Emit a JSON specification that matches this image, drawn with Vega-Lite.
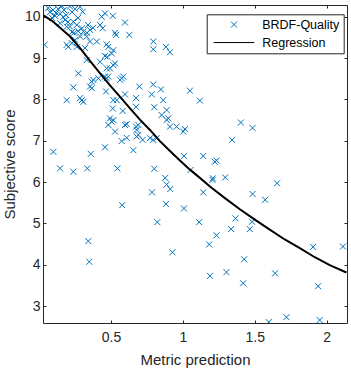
{
  "$schema": "https://vega.github.io/schema/vega-lite/v6.json",
  "width": 304,
  "height": 318,
  "autosize": "none",
  "padding": {"left": 43, "top": 5, "right": 4, "bottom": 47},
  "background": "white",
  "config": {
    "view": {"stroke": null},
    "font": "Liberation Sans",
    "axis": {
      "grid": false,
      "domainColor": "#262626",
      "tickColor": "#262626",
      "labelColor": "#262626",
      "titleColor": "#262626",
      "labelFont": "Liberation Sans",
      "titleFont": "Liberation Sans",
      "labelFontSize": 14,
      "titleFontSize": 15,
      "titleFontWeight": "normal",
      "tickSize": -3,
      "domainWidth": 1,
      "tickWidth": 1
    }
  },
  "datasets": {
    "points": [
      {"prediction": 0.037, "score": 9.32}, {"prediction": 0.158, "score": 10.26}, {"prediction": 0.285, "score": 10.24}, {"prediction": 0.303, "score": 10.12},
      {"prediction": 0.076, "score": 10.11}, {"prediction": 0.097, "score": 10.16}, {"prediction": 0.118, "score": 10.09}, {"prediction": 0.132, "score": 10.19},
      {"prediction": 0.146, "score": 10.07}, {"prediction": 0.111, "score": 10.02}, {"prediction": 0.167, "score": 9.99}, {"prediction": 0.188, "score": 10.04},
      {"prediction": 0.090, "score": 9.97}, {"prediction": 0.146, "score": 9.84}, {"prediction": 0.181, "score": 9.92}, {"prediction": 0.201, "score": 9.87},
      {"prediction": 0.238, "score": 9.88}, {"prediction": 0.262, "score": 9.80}, {"prediction": 0.192, "score": 9.76}, {"prediction": 0.215, "score": 9.76},
      {"prediction": 0.229, "score": 9.63}, {"prediction": 0.243, "score": 9.61}, {"prediction": 0.271, "score": 9.65}, {"prediction": 0.297, "score": 9.72},
      {"prediction": 0.308, "score": 9.64}, {"prediction": 0.354, "score": 9.68}, {"prediction": 0.333, "score": 9.61}, {"prediction": 0.285, "score": 9.52},
      {"prediction": 0.331, "score": 9.52}, {"prediction": 0.354, "score": 9.40}, {"prediction": 0.192, "score": 9.32}, {"prediction": 0.203, "score": 9.27},
      {"prediction": 0.227, "score": 9.36}, {"prediction": 0.262, "score": 9.27}, {"prediction": 0.319, "score": 9.24}, {"prediction": 0.401, "score": 9.40},
      {"prediction": 0.229, "score": 10.11}, {"prediction": 0.250, "score": 10.19}, {"prediction": 0.063, "score": 10.21}, {"prediction": 0.215, "score": 10.25},
      {"prediction": 0.174, "score": 10.16}, {"prediction": 0.271, "score": 9.97}, {"prediction": 0.340, "score": 9.80}, {"prediction": 0.375, "score": 9.73},
      {"prediction": 0.250, "score": 9.44}, {"prediction": 0.458, "score": 10.08}, {"prediction": 0.435, "score": 10.00}, {"prediction": 0.512, "score": 10.02},
      {"prediction": 0.597, "score": 9.86}, {"prediction": 0.442, "score": 9.72}, {"prediction": 0.424, "score": 9.80}, {"prediction": 0.528, "score": 9.61},
      {"prediction": 0.535, "score": 9.56}, {"prediction": 0.627, "score": 9.56}, {"prediction": 0.794, "score": 9.40}, {"prediction": 0.794, "score": 9.21},
      {"prediction": 0.882, "score": 9.27}, {"prediction": 0.910, "score": 9.14}, {"prediction": 0.470, "score": 9.33}, {"prediction": 0.516, "score": 9.19},
      {"prediction": 0.505, "score": 9.11}, {"prediction": 0.458, "score": 9.05}, {"prediction": 0.474, "score": 9.03}, {"prediction": 0.481, "score": 9.27},
      {"prediction": 0.331, "score": 8.95}, {"prediction": 0.424, "score": 8.91}, {"prediction": 0.528, "score": 8.87}, {"prediction": 0.493, "score": 8.75},
      {"prediction": 0.516, "score": 8.83}, {"prediction": 0.273, "score": 8.63}, {"prediction": 0.470, "score": 8.75}, {"prediction": 0.366, "score": 8.43},
      {"prediction": 0.377, "score": 8.47}, {"prediction": 0.412, "score": 8.51}, {"prediction": 0.458, "score": 8.55}, {"prediction": 0.470, "score": 8.51},
      {"prediction": 0.481, "score": 8.55}, {"prediction": 0.574, "score": 8.51}, {"prediction": 0.585, "score": 8.55}, {"prediction": 0.563, "score": 8.47},
      {"prediction": 0.697, "score": 8.31}, {"prediction": 0.794, "score": 8.36}, {"prediction": 0.847, "score": 8.24}, {"prediction": 0.238, "score": 8.29},
      {"prediction": 0.354, "score": 8.31}, {"prediction": 0.366, "score": 8.27}, {"prediction": 0.465, "score": 8.19}, {"prediction": 0.597, "score": 8.12},
      {"prediction": 0.783, "score": 8.12}, {"prediction": 0.674, "score": 8.03}, {"prediction": 0.192, "score": 7.98}, {"prediction": 0.285, "score": 8.03},
      {"prediction": 0.297, "score": 7.98}, {"prediction": 0.308, "score": 7.94}, {"prediction": 0.516, "score": 7.98}, {"prediction": 0.540, "score": 7.98},
      {"prediction": 0.863, "score": 7.98}, {"prediction": 0.512, "score": 7.78}, {"prediction": 0.581, "score": 7.72}, {"prediction": 0.674, "score": 7.82},
      {"prediction": 0.801, "score": 7.81}, {"prediction": 0.887, "score": 7.74}, {"prediction": 0.852, "score": 7.62}, {"prediction": 0.898, "score": 7.54},
      {"prediction": 0.493, "score": 7.54}, {"prediction": 0.516, "score": 7.50}, {"prediction": 0.505, "score": 7.46}, {"prediction": 0.609, "score": 7.40},
      {"prediction": 0.690, "score": 7.38}, {"prediction": 0.674, "score": 7.34}, {"prediction": 0.481, "score": 7.38}, {"prediction": 0.910, "score": 7.34},
      {"prediction": 0.956, "score": 7.34}, {"prediction": 1.049, "score": 8.21}, {"prediction": 1.118, "score": 7.97}, {"prediction": 1.403, "score": 7.44},
      {"prediction": 1.484, "score": 7.31}, {"prediction": 1.014, "score": 7.28}, {"prediction": 0.528, "score": 7.22}, {"prediction": 0.597, "score": 7.38},
      {"prediction": 0.678, "score": 7.26}, {"prediction": 0.690, "score": 7.14}, {"prediction": 0.678, "score": 7.10}, {"prediction": 0.609, "score": 7.07},
      {"prediction": 0.574, "score": 6.99}, {"prediction": 0.720, "score": 7.02}, {"prediction": 0.771, "score": 7.06}, {"prediction": 0.794, "score": 7.02},
      {"prediction": 0.817, "score": 7.06}, {"prediction": 0.458, "score": 6.84}, {"prediction": 0.655, "score": 6.77}, {"prediction": 1.002, "score": 7.22},
      {"prediction": 1.342, "score": 7.02}, {"prediction": 1.007, "score": 6.63}, {"prediction": 1.141, "score": 6.63}, {"prediction": 1.222, "score": 6.49},
      {"prediction": 1.234, "score": 6.52}, {"prediction": 1.053, "score": 6.29}, {"prediction": 1.208, "score": 6.09}, {"prediction": 1.206, "score": 6.05},
      {"prediction": 1.294, "score": 6.11}, {"prediction": 1.141, "score": 5.75}, {"prediction": 1.484, "score": 5.71}, {"prediction": 1.572, "score": 5.57},
      {"prediction": 1.655, "score": 5.97}, {"prediction": 1.007, "score": 5.36}, {"prediction": 1.113, "score": 5.03}, {"prediction": 1.366, "score": 5.12},
      {"prediction": 1.481, "score": 5.04}, {"prediction": 1.335, "score": 4.86}, {"prediction": 1.465, "score": 4.86}, {"prediction": 1.234, "score": 4.71},
      {"prediction": 1.183, "score": 4.49}, {"prediction": 1.905, "score": 4.43}, {"prediction": 2.113, "score": 4.44}, {"prediction": 0.099, "score": 6.73},
      {"prediction": 0.146, "score": 6.33}, {"prediction": 0.238, "score": 6.25}, {"prediction": 0.335, "score": 6.33}, {"prediction": 0.359, "score": 6.68},
      {"prediction": 0.544, "score": 6.33}, {"prediction": 0.801, "score": 6.32}, {"prediction": 0.877, "score": 6.10}, {"prediction": 0.887, "score": 5.94},
      {"prediction": 0.912, "score": 5.83}, {"prediction": 0.785, "score": 5.75}, {"prediction": 0.578, "score": 5.44}, {"prediction": 0.882, "score": 5.47},
      {"prediction": 0.822, "score": 5.03}, {"prediction": 0.342, "score": 4.57}, {"prediction": 0.349, "score": 4.07}, {"prediction": 0.927, "score": 4.30},
      {"prediction": 1.426, "score": 4.13}, {"prediction": 1.188, "score": 3.73}, {"prediction": 1.303, "score": 3.82}, {"prediction": 1.419, "score": 3.55},
      {"prediction": 1.641, "score": 3.79}, {"prediction": 1.940, "score": 3.48}, {"prediction": 1.597, "score": 2.61}, {"prediction": 1.720, "score": 2.73},
      {"prediction": 1.951, "score": 2.66}, {"prediction": 0.887, "score": 7.50}
    ],
    "curve": [
      {"prediction": 0.030, "score": 10.03}, {"prediction": 0.090, "score": 9.90}, {"prediction": 0.146, "score": 9.73},
      {"prediction": 0.215, "score": 9.52}, {"prediction": 0.285, "score": 9.24}, {"prediction": 0.354, "score": 8.93},
      {"prediction": 0.424, "score": 8.63}, {"prediction": 0.493, "score": 8.34}, {"prediction": 0.563, "score": 8.06},
      {"prediction": 0.632, "score": 7.78}, {"prediction": 0.701, "score": 7.51}, {"prediction": 0.771, "score": 7.26},
      {"prediction": 0.840, "score": 6.99}, {"prediction": 0.910, "score": 6.75}, {"prediction": 0.979, "score": 6.52},
      {"prediction": 1.049, "score": 6.30}, {"prediction": 1.118, "score": 6.10}, {"prediction": 1.188, "score": 5.89},
      {"prediction": 1.292, "score": 5.61}, {"prediction": 1.396, "score": 5.34}, {"prediction": 1.500, "score": 5.09},
      {"prediction": 1.604, "score": 4.85}, {"prediction": 1.708, "score": 4.61}, {"prediction": 1.813, "score": 4.40},
      {"prediction": 1.917, "score": 4.18}, {"prediction": 2.021, "score": 3.99}, {"prediction": 2.137, "score": 3.81}
    ]
  },
  "layer": [
    {
      "data": {"name": "points"},
      "mark": {"type": "point", "filled": false, "size": 36, "strokeWidth": 1, "clip": true, "opacity": 1},
      "encoding": {
        "x": {
          "field": "prediction", "type": "quantitative",
          "scale": {"domain": [0.027, 2.141], "nice": false, "zero": false},
          "axis": {"orient": "bottom", "title": "Metric prediction", "values": [0.5, 1, 1.5, 2], "labelExpr": "'' + datum.value", "labelPadding": 10, "titlePadding": 8}
        },
        "y": {
          "field": "score", "type": "quantitative",
          "scale": {"domain": [2.589, 10.283], "nice": false, "zero": false},
          "axis": {"orient": "left", "title": "Subjective score", "values": [3, 4, 5, 6, 7, 8, 9, 10], "labelPadding": 6, "titlePadding": 7}
        },
        "color": {
          "datum": "BRDF-Quality",
          "type": "nominal",
          "scale": {"domain": ["BRDF-Quality", "Regression"], "range": ["#0072BD", "#000000"]},
          "legend": {
            "title": null, "orient": "none", "legendX": 163.7, "legendY": 9.3,
            "padding": 4, "strokeColor": "#262626", "fillColor": "white",
            "labelFont": "Liberation Sans", "labelFontSize": 12.5, "labelColor": "#000000",
            "symbolOffset": 17, "labelOffset": 22, "rowPadding": 5, "symbolSize": 36,
            "symbolStrokeWidth": 1,
            "encode": {"symbols": {"update": {"strokeWidth": {"signal": "datum.value === 'Regression' ? 2 : 1"}}}}
          }
        },
        "shape": {
          "datum": "BRDF-Quality",
          "type": "nominal",
          "scale": {"domain": ["BRDF-Quality", "Regression"], "range": ["M-1,-1L1,1M-1,1L1,-1", "M-6.8,0L6.8,0"]},
          "legend": {
            "title": null, "orient": "none", "legendX": 163.7, "legendY": 9.3,
            "padding": 4, "strokeColor": "#262626", "fillColor": "white",
            "labelFont": "Liberation Sans", "labelFontSize": 12.5, "labelColor": "#000000",
            "symbolOffset": 17, "labelOffset": 22, "rowPadding": 5, "symbolSize": 36,
            "symbolStrokeWidth": 1,
            "encode": {"symbols": {"update": {"strokeWidth": {"signal": "datum.value === 'Regression' ? 2 : 1"}}}}
          }
        }
      }
    },
    {
      "data": {"name": "curve"},
      "mark": {"type": "line", "color": "#000000", "strokeWidth": 2, "clip": true},
      "encoding": {
        "x": {
          "field": "prediction", "type": "quantitative",
          "axis": {"orient": "top", "title": null, "values": [0.5, 1, 1.5, 2], "labels": false}
        },
        "y": {
          "field": "score", "type": "quantitative",
          "axis": {"orient": "right", "title": null, "values": [3, 4, 5, 6, 7, 8, 9, 10], "labels": false}
        }
      }
    }
  ],
  "resolve": {"axis": {"x": "independent", "y": "independent"}}
}
